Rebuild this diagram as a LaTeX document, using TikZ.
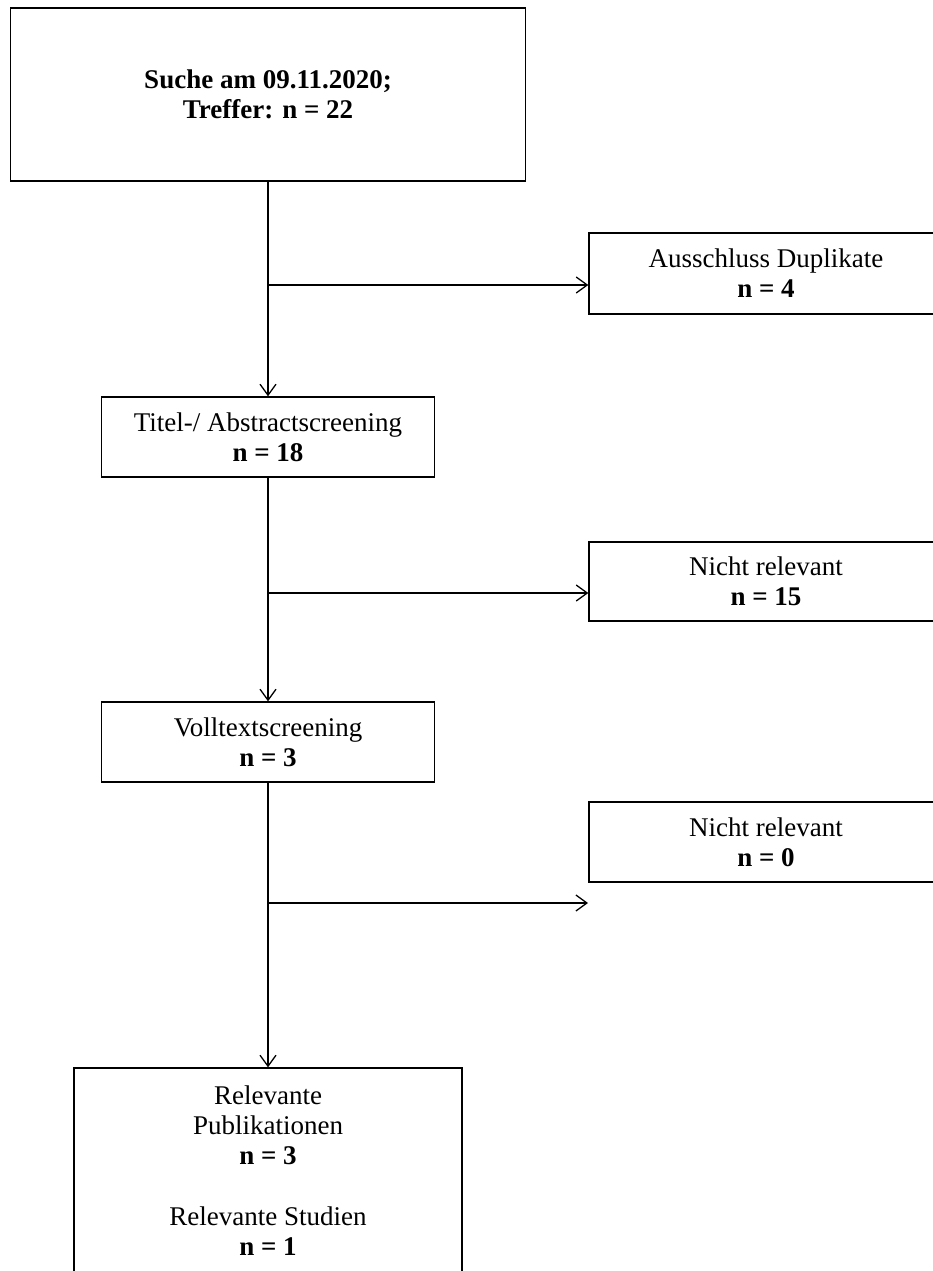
\documentclass[tikz,border=0pt]{standalone}
\usepackage{fontspec}
\setmainfont{Liberation Serif}
\usetikzlibrary{arrows.meta}

\tikzset{
  box/.style={draw, line width=1.4pt, align=center, inner sep=0pt,
    font=\fontsize{27}{30}\selectfont},
  flow/.style={line width=1.3pt,
    -{Straight Barb[length=11pt,width=16pt,line width=1.3pt]}}
}

\begin{document}
\begin{tikzpicture}[x=1pt,y=-1pt]
\useasboundingbox (0,0) rectangle (933,1271);

\node[box, minimum width=515pt, minimum height=173pt] (search) at (268,94.5) {\textbf{Suche am 09.11.2020;}\\\textbf{Treffer: n = 22}};
\node[box, minimum width=354pt, minimum height=81pt] (dup) at (766,273.5) {Ausschluss Duplikate\\\textbf{n = 4}};
\node[box, minimum width=333pt, minimum height=80pt] (title) at (268,437) {Titel-/ Abstractscreening\\\textbf{n = 18}};
\node[box, minimum width=354pt, minimum height=79pt] (nr1) at (766,581.5) {Nicht relevant\\\textbf{n = 15}};
\node[box, minimum width=333pt, minimum height=80pt] (full) at (268,742) {Volltextscreening\\\textbf{n = 3}};
\node[box, minimum width=354pt, minimum height=80pt] (nr2) at (766,842) {Nicht relevant\\\textbf{n = 0}};
\node[box, minimum width=388pt, minimum height=206pt] (result) at (268,1171) {Relevante\\Publikationen\\\textbf{n = 3}\\[31pt]Relevante Studien\\\textbf{n = 1}};

\coordinate (b1) at (268,285);
\coordinate (b2) at (268,593);
\coordinate (b3) at (268,903);
\coordinate (e3) at (588,903);

\draw[flow] (search) -- (title);
\draw[flow] (b1) -- (b1 -| dup.west);
\draw[flow] (title) -- (full);
\draw[flow] (b2) -- (b2 -| nr1.west);
\draw[flow] (full) -- (result);
\draw[flow] (b3) -- (e3);
\end{tikzpicture}
\end{document}
